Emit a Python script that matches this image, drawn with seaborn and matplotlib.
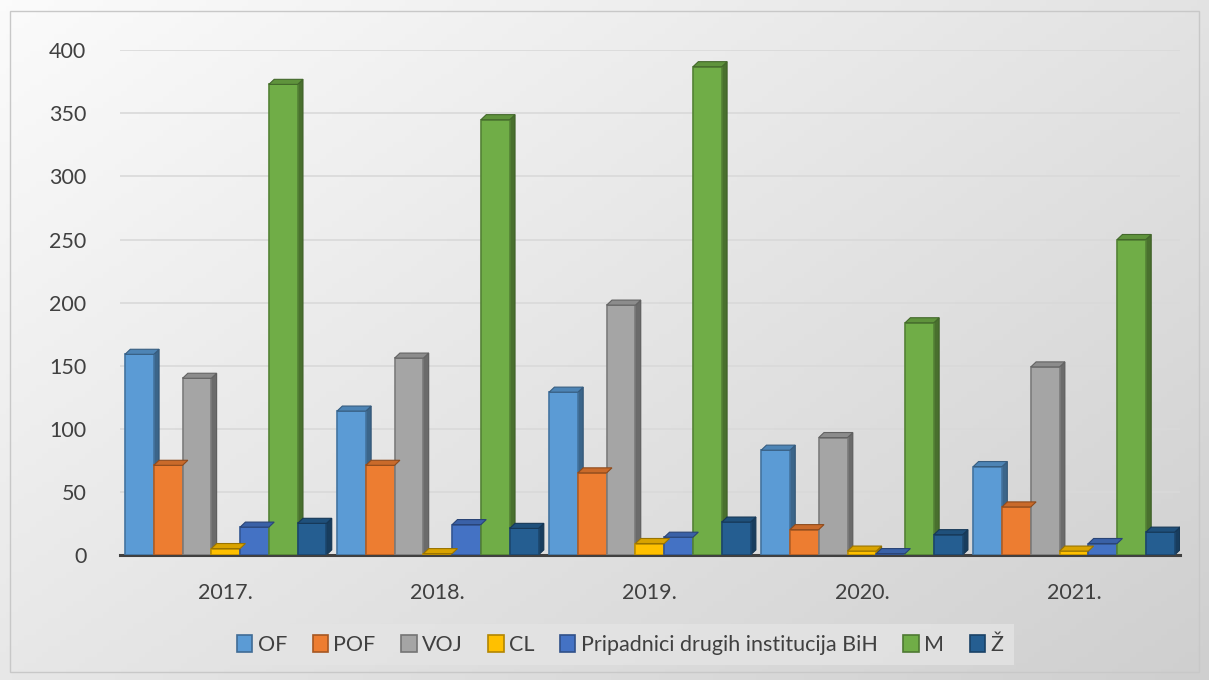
import numpy as np
import pandas as pd
import matplotlib
matplotlib.use("Agg")
import matplotlib.pyplot as plt
import seaborn as sns
from matplotlib.patches import Polygon, Rectangle
from matplotlib.colors import to_rgb

years = ["2017.", "2018.", "2019.", "2020.", "2021."]
series = ["OF", "POF", "VOJ", "CL", "Pripadnici drugih institucija BiH", "M", "Ž"]
of_vals = [159, 114, 129, 83, 70]
pof_vals = [71, 71, 65, 20, 38]
voj_vals = [140, 156, 198, 93, 149]
cl_vals = [5, 1, 9, 3, 3]
prip_vals = [22, 24, 14, 1, 9]
m_vals = [373, 345, 387, 184, 250]
z_vals = [25, 21, 26, 16, 18]
colors = ["#5B9BD5", "#ED7D31", "#A5A5A5", "#FFC000", "#4472C4", "#70AD47", "#255E91"]

values = [of_vals, pof_vals, voj_vals, cl_vals, prip_vals, m_vals, z_vals]
rows = []
for name, vals in zip(series, values):
    for y, v in zip(years, vals):
        rows.append({"year": y, "series": name, "value": v})
df = pd.DataFrame(rows)

sns.set_style("white")
plt.rcParams['font.family'] = ['Lato', 'DejaVu Sans']

fig = plt.figure(figsize=(12.09, 6.8), dpi=100)

# gradient background
bg = fig.add_axes([0, 0, 1, 1], zorder=-10)
gx, gy = np.meshgrid(np.linspace(0, 1, 200), np.linspace(0, 1, 120))
grad = 0.55 * gx + 0.45 * gy
bg.imshow(grad, cmap=matplotlib.colors.LinearSegmentedColormap.from_list("g", ["#fbfbfb", "#cfcfcf"]),
          aspect="auto", extent=[0, 1, 0, 1], origin="upper")
bg.axis("off")
fig.add_artist(Rectangle((0.008, 0.012), 0.984, 0.972, transform=fig.transFigure,
                         fill=False, edgecolor="#c8c8c8", lw=1))

ax = fig.add_axes([0.099, 0.184, 0.877, 0.742])
ax.patch.set_alpha(0)
sns.barplot(data=df, x="year", y="value", hue="series", hue_order=series, palette=colors,
            width=0.95, gap=0.0, ax=ax, saturation=1, legend=False, zorder=3)

# pseudo 3D faces from the bar geometry
dx, dy = 0.025, 4
for bar in ax.patches:
    x0, w, h = bar.get_x(), bar.get_width(), bar.get_height()
    if np.isnan(h):
        continue
    c = np.array(to_rgb(bar.get_facecolor()))
    bar.set_edgecolor(tuple(c * 0.75))
    bar.set_linewidth(1.2)
    side = Polygon([(x0 + w, 0), (x0 + w + dx, dy), (x0 + w + dx, h + dy), (x0 + w, h)],
                   closed=True, facecolor=tuple(c * 0.65), edgecolor=tuple(c * 0.55), lw=0.8, zorder=2)
    top = Polygon([(x0, h), (x0 + dx, h + dy), (x0 + w + dx, h + dy), (x0 + w, h)],
                  closed=True, facecolor=tuple(c * 0.85), edgecolor=tuple(c * 0.6), lw=0.8, zorder=4)
    ax.add_patch(side)
    ax.add_patch(top)

ax.set_ylim(0, 400)
ax.set_xlim(-0.5, 4.5)
ax.set_yticks(np.arange(0, 401, 50))
ax.yaxis.grid(True, color="#d9d9d9", lw=1.2, zorder=0)
ax.set_axisbelow(True)
for s in ["left", "right", "top"]:
    ax.spines[s].set_visible(False)
ax.spines["bottom"].set_color("#404040")
ax.spines["bottom"].set_linewidth(2.2)
ax.tick_params(axis="y", length=0, pad=24, labelsize=15.5, labelcolor="#404040")
ax.tick_params(axis="x", length=0, pad=20, labelsize=15.5, labelcolor="#404040")
ax.set_xlabel("")
ax.set_ylabel("")

handles = [Rectangle((0, 0), 1, 1, facecolor=c, edgecolor=tuple(np.array(to_rgb(c)) * 0.7), lw=1.2)
           for c in colors]
leg = fig.legend(handles, series, loc="center", bbox_to_anchor=(0.513, 0.052), ncol=7,
                 frameon=True, fontsize=15.5, handlelength=0.7, handleheight=0.85,
                 handletextpad=0.25, columnspacing=1.2, borderpad=0.5, fancybox=False)
leg.get_frame().set_facecolor("#e4e4e4")
leg.get_frame().set_edgecolor("none")
for t in leg.get_texts():
    t.set_color("#404040")

fig.savefig("out.png", dpi=100)
